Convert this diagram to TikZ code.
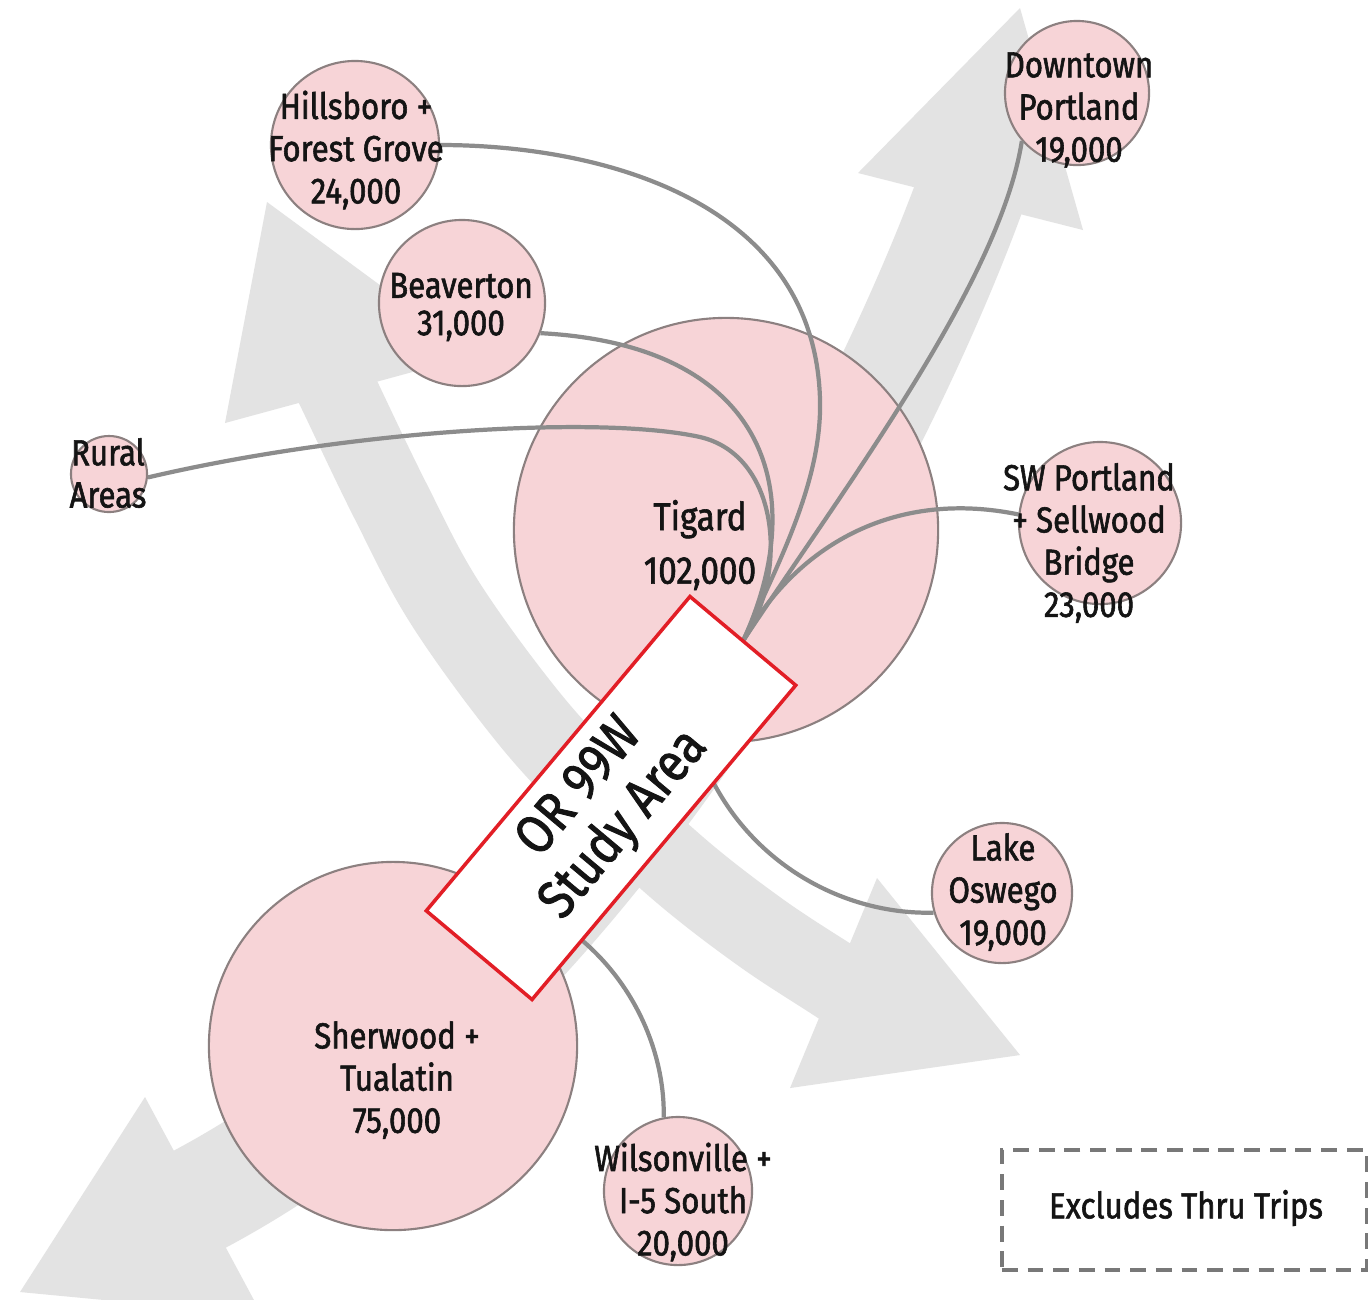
\documentclass[tikz,border=0pt]{standalone}
\usepackage{fontspec}
\setmainfont{Fira Sans}[FakeStretch=0.86, FakeBold=1.6]
\usetikzlibrary{calc}
\definecolor{cityfill}{RGB}{247,212,215}
\definecolor{cityline}{RGB}{140,128,128}
\definecolor{bandgray}{RGB}{227,227,227}
\definecolor{conngray}{RGB}{140,140,140}
\definecolor{boxred}{RGB}{226,30,38}
\definecolor{ink}{RGB}{20,20,20}
\definecolor{dashgray}{RGB}{120,120,120}
\begin{document}
\begin{tikzpicture}[x=0.01cm,y=-0.01cm,
  city/.style={circle, fill=cityfill, draw=cityline, line width=0.6pt, inner sep=0pt},
  lbl/.style={align=center, text=ink, font=\fontsize{10.3}{12}\selectfont, inner sep=0pt},
  flowline/.style={draw=conngray, line width=1.2pt},
  bandline/.style={draw=bandgray, line cap=butt},
  bandhead/.style={fill=bandgray},
]
\fill[white] (0,0) rectangle (1368,1299);
\useasboundingbox (0,0) rectangle (1368,1299);

% big gray arrows
\draw[bandline, line width=0.8cm] plot[smooth, tension=0.6] coordinates {(325,365) (338,392) (390,500) (445,603) (528,717) (600,795) (680,870) (760,932) (833,980) (858,996)};
\fill[bandhead] (267,202) -- (225,423) -- (475,355) -- cycle;
\fill[bandhead] (1020,1055) -- (790,1088) -- (877,878) -- cycle;
\draw[bandline, line width=1.1cm] (174,1213) -- (200,1199) .. controls (596,988) and (870,463) .. (968,200) -- (978,172);
\fill[bandhead] (1020,8) -- (858,173) -- (1083,230) -- cycle;
\fill[bandhead] (20,1292) -- (145,1097) -- (262,1315) -- cycle;

% circles
\node[city, minimum size=4.24cm] (tig) at (726,530) {};
\node[city, minimum size=3.68cm] (shw) at (393,1046) {};
\node[city, minimum size=1.68cm] (hil) at (355,145) {};
\node[city, minimum size=1.66cm] (bea) at (462,303) {};
\node[city, minimum size=0.76cm] (rur) at (109,474) {};
\node[city, minimum size=1.44cm] (dtp) at (1077,93) {};
\node[city, minimum size=1.62cm] (swp) at (1100,523) {};
\node[city, minimum size=1.40cm] (lak) at (1002,893) {};
\node[city, minimum size=1.48cm] (wil) at (678,1191) {};

% study area box (anchors needed for connectors)
\path (611,798) node[minimum width=4.1cm, minimum height=1.38cm, rotate=50, inner sep=0pt] (studyref) {};
\coordinate (lakeStart) at ($(studyref.south)!0.375!(studyref.south east)$);
\coordinate (wilStart) at ($(studyref.south)!0.62!(studyref.south west)$);

% connectors
\draw[flowline] (studyref.east) .. controls (780,560) and (822,480) .. (820,400) .. controls (815,200) and (600,145) .. (hil.east);
\draw[flowline] (studyref.east) .. controls (812,490) and (765,345) .. (bea.-21);
\draw[flowline] (studyref.east) .. controls (790,570) and (778,455) .. (700,437) .. controls (600,415) and (350,430) .. (rur.-5);
\draw[flowline] (studyref.east) .. controls (850,480) and (1000,280) .. (dtp.221);
\draw[flowline] (studyref.east) .. controls (800,540) and (900,490) .. (swp.174);
\draw[flowline] (lakeStart) .. controls (760,870) and (850,915) .. (lak.196);
\draw[flowline] (wilStart) .. controls (640,990) and (665,1060) .. (wil.101);

% study area box drawn on top
\node[draw=boxred, line width=1pt, fill=white, minimum width=4.1cm, minimum height=1.38cm, rotate=50, inner sep=0pt] (study) at (611,798) {};
\node[rotate=50, align=center, text=ink, inner sep=0pt, font=\fontsize{15.5}{16.5}\selectfont] (studyT) at (603,807) {OR 99W\\Study Area};

% labels
\node[lbl] (hilT) at (356,150) {Hillsboro +\\Forest Grove\\24,000};
\node[lbl] (beaT) at (461,307) {Beaverton\\[-1.4pt]31,000};
\node[lbl] (rurT) at (108,473) {Rural\\Areas};
\node[lbl] (dtpT) at (1079,110) {Downtown\\Portland\\19,000};
\node[lbl, font=\fontsize{11}{12}\selectfont] (tigT) at (700,545) {Tigard\\[3.2pt]102,000};
\node[lbl] (swpT) at (1089,543) {SW Portland\\+ Sellwood\\Bridge\\23,000};
\node[lbl] (lakT) at (1003,892) {Lake\\Oswego\\19,000};
\node[lbl] (shwT) at (397,1080) {Sherwood +\\Tualatin\\75,000};
\node[lbl] (wilT) at (683,1202) {Wilsonville +\\I-5 South\\20,000};

% legend box
\node[draw=dashgray, line width=0.9pt, dash pattern=on 4.5pt off 2.8pt, minimum width=3.64cm, minimum height=1.2cm, inner sep=0pt] (legend) at (1184,1210) {};
\node[lbl] (legendT) at (1186,1208) {Excludes Thru Trips};
\end{tikzpicture}
\end{document}
